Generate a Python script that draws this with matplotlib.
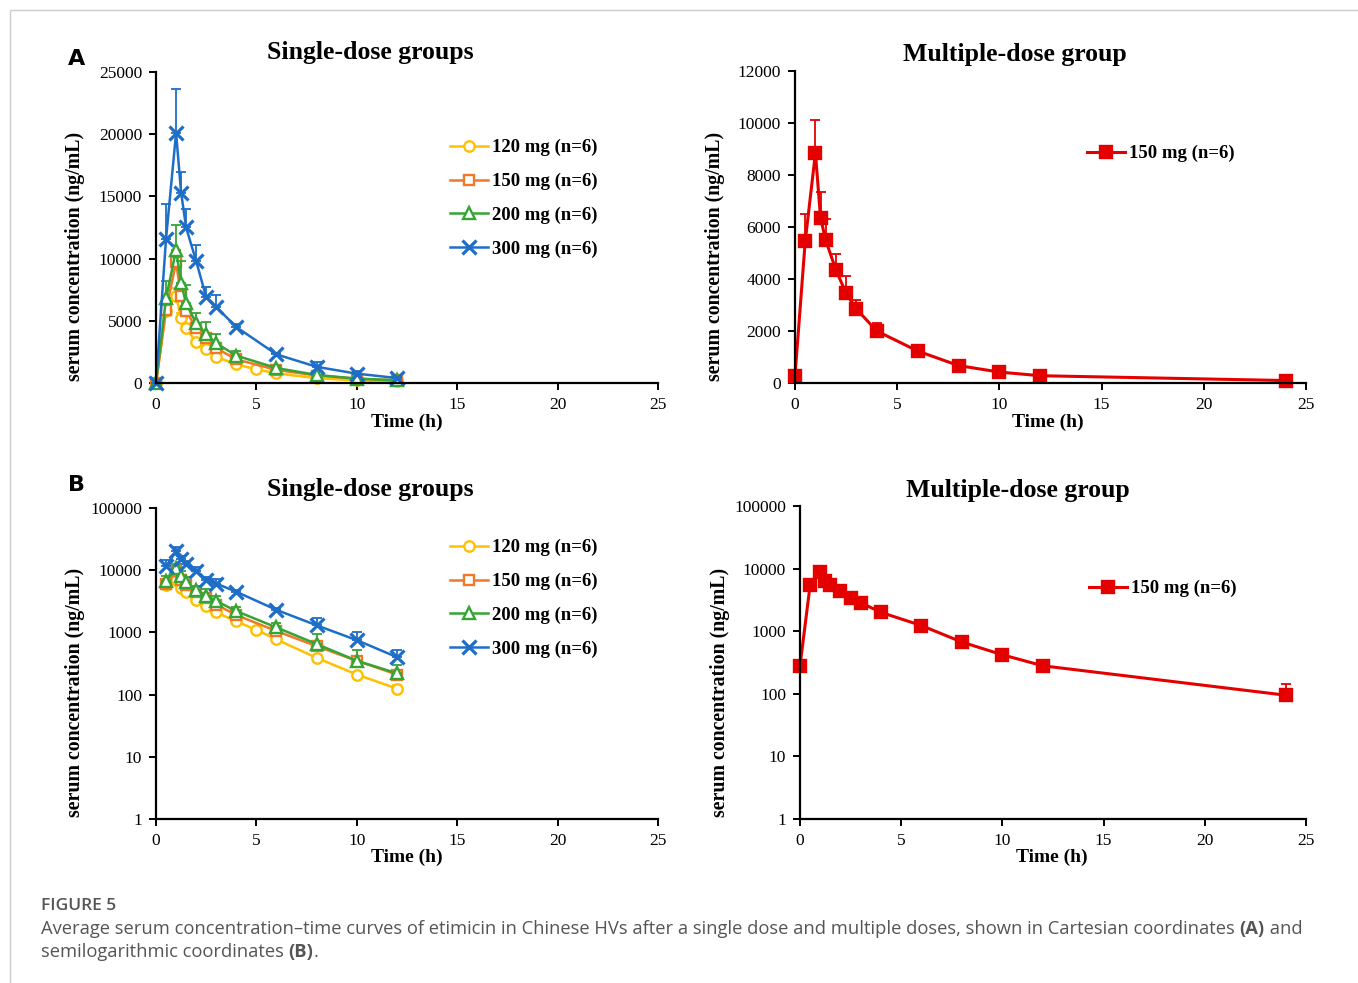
import numpy as np
import matplotlib.pyplot as plt
from matplotlib.patches import Rectangle

W, H = 1358, 983

# ---- data ----
# single-dose groups (time in h, conc in ng/mL, upper SD)
t_single = [0, 0.5, 1, 1.25, 1.5, 2, 2.5, 3, 4, 6, 8, 10, 12]
t_120 = [0, 0.5, 1, 1.25, 1.5, 2, 2.5, 3, 4, 5, 6, 8, 10, 12]
c_120 = [0, 5800, 7000, 5200, 4400, 3300, 2700, 2100, 1500, 1100, 770, 390, 210, 125]
e_120 = [0, 500, 600, 400, 300, 250, 200, 150, 100, 80, 60, 30, 20, 20]
c_150 = [0, 5900, 9700, 7000, 5800, 4400, 3600, 2800, 1900, 1050, 600, 350, 210]
e_150 = [0, 600, 700, 500, 400, 300, 250, 200, 150, 100, 60, 60, 40]
c_200 = [0, 6800, 10700, 8000, 6400, 4800, 3900, 3200, 2200, 1200, 650, 350, 220]
e_200 = [0, 1400, 2000, 1800, 1500, 800, 1000, 700, 400, 200, 300, 180, 80]
c_300 = [0, 11600, 20100, 15300, 12500, 9800, 6900, 6100, 4500, 2300, 1300, 750, 400]
e_300 = [0, 2800, 3500, 1700, 1500, 1300, 800, 1000, 250, 150, 400, 250, 120]

# multiple-dose group
t_multi = [0, 0.5, 1, 1.25, 1.5, 2, 2.5, 3, 4, 6, 8, 10, 12, 24]
c_multi = [280, 5450, 8850, 6350, 5500, 4350, 3450, 2850, 2000, 1230, 670, 420, 280, 95]
e_multi = [0, 1050, 1250, 1000, 800, 600, 650, 350, 300, 100, 60, 50, 30, 50]

single_labels = ['120 mg (n=6)', '150 mg (n=6)', '200 mg (n=6)', '300 mg (n=6)']
multi_label = '150 mg (n=6)'

x_ticks = [0, 5, 10, 15, 20, 25]
lin_ticks_single = [0, 5000, 10000, 15000, 20000, 25000]
lin_ticks_multi = [0, 2000, 4000, 6000, 8000, 10000, 12000]
log_ticks = [1, 10, 100, 1000, 10000, 100000]

series = [
    (t_120, c_120, e_120, '#FFC000', 'o', 'white', 7.5),
    (t_single, c_150, e_150, '#F07828', 's', 'white', 7.5),
    (t_single, c_200, e_200, '#35A535', '^', 'white', 8.5),
    (t_single, c_300, e_300, '#1E6EC8', 'x', 'none', 9.5),
]

serif = 'Liberation Serif'
plt.rcParams['font.family'] = serif


def px(l, r, t, b):
    return [l / W, 1 - b / H, (r - l) / W, (b - t) / H]


def fx(x, y):
    return x / W, 1 - y / H


def style(ax, log, yticks, ymax):
    for s in ['top', 'right']:
        ax.spines[s].set_visible(False)
    for s in ['left', 'bottom']:
        ax.spines[s].set_linewidth(1.6)
    ax.set_xlim(0, 25)
    ax.set_xticks(x_ticks)
    if log:
        ax.set_yscale('log')
        ax.set_ylim(1, 100000)
        ax.yaxis.set_minor_locator(plt.NullLocator())
        ax.set_yticks(yticks)
        ax.set_yticklabels([str(v) for v in yticks])
    else:
        ax.set_ylim(0, ymax)
        ax.set_yticks(yticks)
    ax.tick_params(axis='both', direction='out', length=5, width=1.4,
                   labelsize=12.5, pad=5)


def draw(ax, t, c, e, color, marker, mfc, ms, log, label, lw=1.8):
    t = np.array(t, float)
    c = np.array(c, float)
    e = np.array(e, float)
    if log:
        keep = c > 0
        t, c, e = t[keep], c[keep], e[keep]
    ax.errorbar(t, c, yerr=[np.zeros_like(e), e], fmt='none', ecolor=color,
                elinewidth=1.3, capsize=3.5, capthick=1.3, clip_on=False)
    line, = ax.plot(t, c, color=color, marker=marker, mfc=mfc, mec=color,
                    ms=ms, mew=1.7 if marker != 'x' else 2.3, lw=lw,
                    label=label, clip_on=False)
    return line


fig = plt.figure(figsize=(W / 100, H / 100), dpi=100)

panels = [
    (px(156, 658, 72, 383), False, 'single', lin_ticks_single, 25000),
    (px(795, 1306, 71, 383), False, 'multi', lin_ticks_multi, 12000),
    (px(156, 658, 508, 819), True, 'single', log_ticks, None),
    (px(800, 1306, 506, 819), True, 'multi', log_ticks, None),
]
legend_pos = [(450, 139), (1087, 145), (450, 539), (1089, 580)]

for (rect, log, kind, yt, ymax), lpos in zip(panels, legend_pos):
    ax = fig.add_axes(rect)
    style(ax, log, yt, ymax)
    handles = []
    if kind == 'single':
        for (t, c, e, col, mk, mfc, ms), lab in zip(series, single_labels):
            handles.append(draw(ax, t, c, e, col, mk, mfc, ms, log, lab))
    else:
        handles.append(draw(ax, t_multi, c_multi, e_multi, '#E50000', 's',
                            '#E50000', 8.5, log, multi_label, lw=2.2))
    ax.legend(handles=handles, loc='upper left', bbox_to_anchor=fx(*lpos),
              bbox_transform=fig.transFigure, frameon=False, borderpad=0,
              borderaxespad=0, handlelength=2.0, handletextpad=0.25,
              labelspacing=0.88,
              prop={'family': serif, 'weight': 'bold', 'size': 13.5})

# titles, axis labels, panel letters
fig.text(*fx(370, 53), 'Single-dose groups', ha='center', va='center',
         fontsize=18.5, fontweight='bold')
fig.text(*fx(1015, 54), 'Multiple-dose group', ha='center', va='center',
         fontsize=18.5, fontweight='bold')
fig.text(*fx(370, 489), 'Single-dose groups', ha='center', va='center',
         fontsize=18.5, fontweight='bold')
fig.text(*fx(1018, 490), 'Multiple-dose group', ha='center', va='center',
         fontsize=18.5, fontweight='bold')

for x, y in [(407, 422), (1048, 422), (407, 857), (1052, 857)]:
    fig.text(*fx(x, y), 'Time (h)', ha='center', va='center',
             fontsize=14, fontweight='bold')
for x, y in [(75, 256), (715, 256), (75, 692), (720, 692)]:
    fig.text(*fx(x, y), 'serum concentration (ng/mL)', ha='center',
             va='center', rotation=90, fontsize=14.3, fontweight='bold')

fig.text(*fx(77, 59), 'A', ha='center', va='center', fontsize=16,
         fontweight='bold', family='DejaVu Sans')
fig.text(*fx(76, 485), 'B', ha='center', va='center', fontsize=16,
         fontweight='bold', family='DejaVu Sans')

# frame around the figure
fig.patches.append(Rectangle(fx(10, 1100), (W + 20) / W, 1090 / H,
                             transform=fig.transFigure, fill=False,
                             edgecolor='#cccccc', lw=1.0))

# caption
cap_font = 'Open Sans'
fig.text(*fx(41, 906), 'FIGURE 5', ha='left', va='center', fontsize=12.5,
         family=cap_font, color='#555555', fontweight='semibold')

renderer = fig.canvas.get_renderer()


def run_text(x, y, parts):
    for txt, bold in parts:
        t = fig.text(*fx(x, y), txt, ha='left', va='center', fontsize=13.2,
                     family=cap_font, color='#555555',
                     fontweight='bold' if bold else 'normal')
        bb = t.get_window_extent(renderer)
        x += bb.width


run_text(41, 929, [('Average serum concentration\u2013time curves of etimicin in '
                    'Chinese HVs after a single dose and multiple doses, shown in '
                    'Cartesian coordinates ', False), ('(A)', True), (' and', False)])
run_text(41, 952, [('semilogarithmic coordinates ', False), ('(B)', True),
                   ('.', False)])

fig.savefig('out.png', dpi=100)
